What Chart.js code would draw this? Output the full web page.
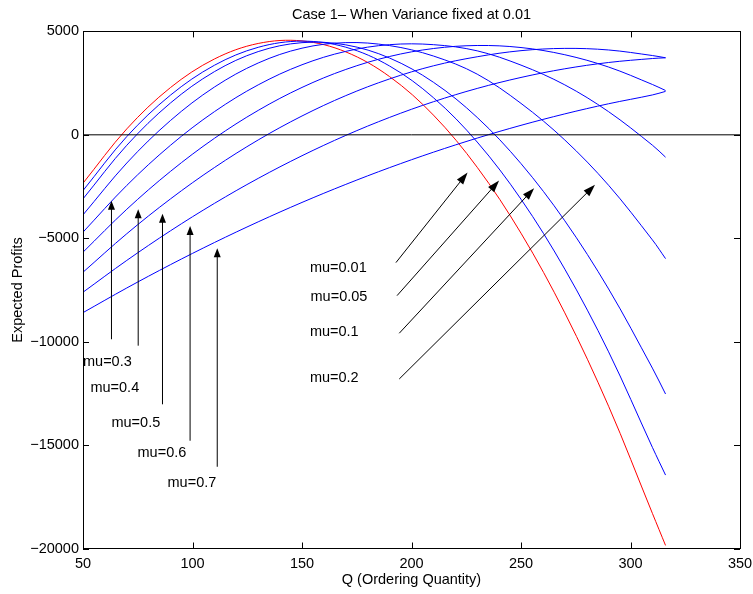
<!DOCTYPE html>
<html>
<head>
<meta charset="utf-8">
<script src="https://cdn.jsdelivr.net/npm/chart.js@4.4.1/dist/chart.umd.min.js"></script>
<style>
  html, body { margin: 0; padding: 0; background: #fff; }
  canvas { display: block; }
</style>
</head>
<body>
<canvas id="profitChart" width="753" height="594"></canvas>
<script>
var orderQty = [50, 70, 90, 110, 130, 150, 170, 190, 210, 230, 250, 270, 290, 310, 316];

// expected profit per mu (variance fixed at 0.01)
var profitMu001 = [-2340, 288, 2290, 3666, 4417, 4540, 4009, 2814, 955, -1569, -4756, -8607, -13122, -18301, -19850];
var profitMu005 = [-2695, -84, 1924, 3362, 4231, 4530, 4236, 3326, 1797, -349, -3113, -6494, -10493, -15110, -16450];
var profitMu01  = [-3096, -505, 1544, 3054, 4024, 4456, 4350, 3712, 2542, 841, -1392, -4156, -7452, -11279, -12530];
var profitMu02  = [-3870, -1363, 697, 2309, 3473, 4189, 4458, 4314, 3810, 2933, 1520, -250, -2440, -5080, -5985];
var profitMu03  = [-4707, -2445, -501, 1119, 2415, 3387, 4035, 4359, 4359, 4060, 3370, 2415, 1119, -501, -1080];
var profitMu04  = [-5675, -3598, -1763, -170, 1181, 2291, 3160, 3788, 4172, 4319, 4220, 3872, 3277, 2434, 2143];
var profitMu05  = [-6643, -4781, -3094, -1583, -248, 911, 1895, 2703, 3336, 3774, 4069, 4179, 4102, 3833, 3725];
var profitMu06  = [-7610, -6071, -4637, -3315, -2106, -1011, -28, 842, 1599, 2243, 2774, 3192, 3497, 3689, 3724];
var profitMu07  = [-8597, -7404, -6274, -5208, -4207, -3269, -2396, -1586, -840, -159, 459, 1012, 1502, 1928, 2100];

// the horizontal zero reference line
var zeroLineQ = [50, 350];
var zeroLineProfit = [0, 0];

// annotation text and arrows (in data units)
var muLabels = ['mu=0.01', 'mu=0.05', 'mu=0.1', 'mu=0.2', 'mu=0.3', 'mu=0.4', 'mu=0.5', 'mu=0.6', 'mu=0.7'];
var labelQ      = [153.6, 153.9, 153.6, 153.6, 50.0, 53.4, 63.0, 74.9, 88.6];
var labelProfit = [-6420, -7823, -9516, -11771, -10968, -12255, -13948, -15399, -16851];
var arrowTailQ      = [192.9, 193.4, 194.4, 194.4, 63.0, 75.2, 86.3, 98.9, 111.3];
var arrowTailProfit = [-6178, -7775, -9594, -11805, -9884, -10194, -13029, -14790, -16048];
var arrowTipQ       = [225.6, 240.0, 256.0, 283.8, 63.0, 75.2, 86.3, 98.9, 111.3];
var arrowTipProfit  = [-1824, -2211, -2579, -2419, -3193, -3595, -3822, -4403, -5481];

var FONT = "'Liberation Sans', Arial, Helvetica, sans-serif";
Chart.defaults.font.family = FONT;
Chart.defaults.font.size = 14.5;
Chart.defaults.color = '#000';

function toPoints(xs, ys) {
    return xs.map(function(x, i) { return { x: x, y: ys[i] }; });
}

var allSeries = [profitMu001, profitMu005, profitMu01, profitMu02, profitMu03,
                 profitMu04, profitMu05, profitMu06, profitMu07];

var datasets = allSeries.map(function(vals, i) {
    return {
        label: muLabels[i],
        data: toPoints(orderQty, vals),
        borderColor: i === 0 ? '#ff0000' : '#0000ff',
        borderWidth: 1,
        pointRadius: 0,
        tension: 0.35,
        fill: false,
        order: i === 0 ? 20 : 10 - i
    };
});
datasets.push({
    label: 'zero',
    data: toPoints(zeroLineQ, zeroLineProfit),
    borderColor: '#000',
    borderWidth: 1,
    pointRadius: 0,
    tension: 0,
    order: 0
});

function fmtTick(v) {
    return v < 0 ? '\u2212' + Math.abs(v) : String(v);
}

// box, inward ticks, arrows and mu labels, matlab style
var matlabBits = {
    id: 'matlabBits',
    afterDraw: function(chart) {
        var ctx = chart.ctx;
        var xs = chart.scales.x, ys = chart.scales.y;
        var a = chart.chartArea;
        var tick = 6;

        ctx.save();
        ctx.strokeStyle = '#000';
        ctx.lineWidth = 1;
        ctx.strokeRect(Math.round(a.left) + 0.5, Math.round(a.top) + 0.5,
                       Math.round(a.right - a.left), Math.round(a.bottom - a.top));

        ctx.beginPath();
        xs.ticks.forEach(function(t) {
            var px = Math.round(xs.getPixelForValue(t.value)) + 0.5;
            ctx.moveTo(px, a.bottom); ctx.lineTo(px, a.bottom - tick);
            ctx.moveTo(px, a.top); ctx.lineTo(px, a.top + tick);
        });
        ys.ticks.forEach(function(t) {
            var py = Math.round(ys.getPixelForValue(t.value)) + 0.5;
            ctx.moveTo(a.left, py); ctx.lineTo(a.left + tick, py);
            ctx.moveTo(a.right, py); ctx.lineTo(a.right - tick, py);
        });
        ctx.stroke();

        // arrows
        ctx.fillStyle = '#000';
        for (var i = 0; i < arrowTipQ.length; i++) {
            var x0 = xs.getPixelForValue(arrowTailQ[i]), y0 = ys.getPixelForValue(arrowTailProfit[i]);
            var x1 = xs.getPixelForValue(arrowTipQ[i]),  y1 = ys.getPixelForValue(arrowTipProfit[i]);
            var ang = Math.atan2(y1 - y0, x1 - x0);
            var len = i < 4 ? 12 : 9, half = i < 4 ? 4 : 3.5;
            ctx.beginPath();
            ctx.moveTo(x0, y0);
            ctx.lineTo(x1 - Math.cos(ang) * len * 0.8, y1 - Math.sin(ang) * len * 0.8);
            ctx.stroke();
            var bx = x1 - Math.cos(ang) * len, by = y1 - Math.sin(ang) * len;
            ctx.beginPath();
            ctx.moveTo(x1, y1);
            ctx.lineTo(bx - Math.sin(ang) * half, by + Math.cos(ang) * half);
            ctx.lineTo(bx + Math.sin(ang) * half, by - Math.cos(ang) * half);
            ctx.closePath();
            ctx.fill();
        }

        // mu labels
        ctx.font = '14.5px ' + FONT;
        ctx.textAlign = 'left';
        ctx.textBaseline = 'middle';
        for (var j = 0; j < muLabels.length; j++) {
            ctx.fillText(muLabels[j], xs.getPixelForValue(labelQ[j]), ys.getPixelForValue(labelProfit[j]));
        }
        ctx.restore();
    }
};

new Chart(document.getElementById('profitChart'), {
    type: 'line',
    data: { datasets: datasets },
    options: {
        responsive: false,
        animation: false,
        devicePixelRatio: 1,
        layout: { padding: { left: 0, right: 13, top: 0, bottom: 0 } },
        plugins: {
            legend: { display: false },
            tooltip: { enabled: false },
            title: {
                display: true,
                fullSize: false,
                text: 'Case 1\u2013 When Variance fixed at 0.01',
                font: { size: 14.5, weight: 'normal' },
                color: '#000',
                padding: { top: 6, bottom: 8 }
            }
        },
        scales: {
            x: {
                type: 'linear',
                min: 50,
                max: 350,
                grid: { display: false, drawTicks: false },
                border: { display: false },
                ticks: { stepSize: 50, padding: 7, maxRotation: 0, callback: fmtTick },
                title: {
                    display: true,
                    text: 'Q (Ordering Quantity)',
                    padding: { top: 0, bottom: 5 }
                },
                afterFit: function(scale) {
                    scale.height = 45.5;
                    scale.paddingLeft = 0;
                    scale.paddingRight = 0;
                }
            },
            y: {
                min: -20000,
                max: 5000,
                grid: { display: false, drawTicks: false },
                border: { display: false },
                ticks: { stepSize: 5000, padding: 4, callback: fmtTick },
                title: {
                    display: true,
                    text: 'Expected Profits',
                    padding: { top: 9.5, bottom: 0 }
                },
                afterFit: function(scale) {
                    scale.width = 83;
                    scale.paddingTop = 0;
                    scale.paddingBottom = 0;
                }
            }
        }
    },
    plugins: [matlabBits]
});
</script>
</body>
</html>
